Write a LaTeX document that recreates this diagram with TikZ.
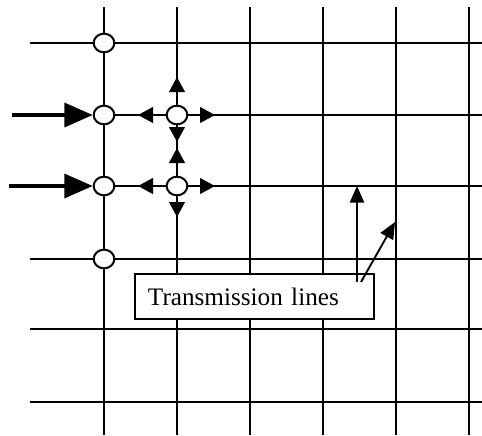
\documentclass[tikz,border=0pt]{standalone}
\usepackage{fontspec}
\setmainfont{Liberation Serif}
\usetikzlibrary{arrows.meta,shapes.geometric}

\tikzset{
  junction/.style={ellipse,draw,fill=white,line width=1.7pt,minimum width=0.62cm,minimum height=0.56cm,inner sep=0pt},
  gridline/.style={line width=1.8pt},
  feedarrow/.style={line width=3pt,-{Triangle[length=0.85cm,width=0.72cm]}},
  scatterarrow/.style={line width=1.8pt,-{Triangle[length=0.45cm,width=0.47cm]}},
  notearrow/.style={line width=1.6pt,-{Triangle[length=0.5cm,width=0.43cm]}},
  notebox/.style={draw,fill=white,line width=1.6pt,minimum width=7.17cm,minimum height=1.35cm,
    inner xsep=0.39cm,text width=6.39cm,align=left,font=\fontsize{21.5}{25}\selectfont}
}

\begin{document}
\begin{tikzpicture}[x=0.03cm,y=-0.03cm]
\useasboundingbox (0,0) rectangle (482,435);

% mesh of lines
\foreach \x in {104,177,250,323,396,469}
  \draw[gridline] (\x,7) -- (\x,435);
\foreach \y in {43,259,329,402}
  \draw[gridline] (30,\y) -- (482,\y);
\foreach \y in {115,186}
  \draw[gridline] (104,\y) -- (482,\y);

% nodes of the mesh
\node[junction] (j1) at (104,43) {};
\node[junction] (j2) at (104,115) {};
\node[junction] (j3) at (104,186) {};
\node[junction] (j4) at (104,259) {};
\node[junction] (s1) at (177,115) {};
\node[junction] (s2) at (177,186) {};

% incoming pulses
\coordinate (f1) at (12,115);
\coordinate (f2) at (9,186);
\draw[feedarrow] (f1) -- (j2);
\draw[feedarrow] (f2) -- (j3);

% scattered pulses
\foreach \s/\dn in {s1/27,s2/31} {
  \path (\s) ++(0,-38) coordinate (\s-up)
        (\s) ++(0,\dn) coordinate (\s-dn)
        (\s) ++(-39,0) coordinate (\s-lt)
        (\s) ++(38,0) coordinate (\s-rt);
  \foreach \d in {up,dn,lt,rt}
    \draw[scatterarrow] (\s) -- (\s-\d);
}

% label
\node[notebox] (note) at (254.5,296.5) {Transmission lines};
\coordinate (n1) at (357,282);
\coordinate (n1tip) at (357,186);
\coordinate (n2) at (361,282);
\coordinate (n2tip) at (395,222);
\draw[notearrow] (n1) -- (n1tip);
\draw[notearrow] (n2) -- (n2tip);

\end{tikzpicture}
\end{document}
